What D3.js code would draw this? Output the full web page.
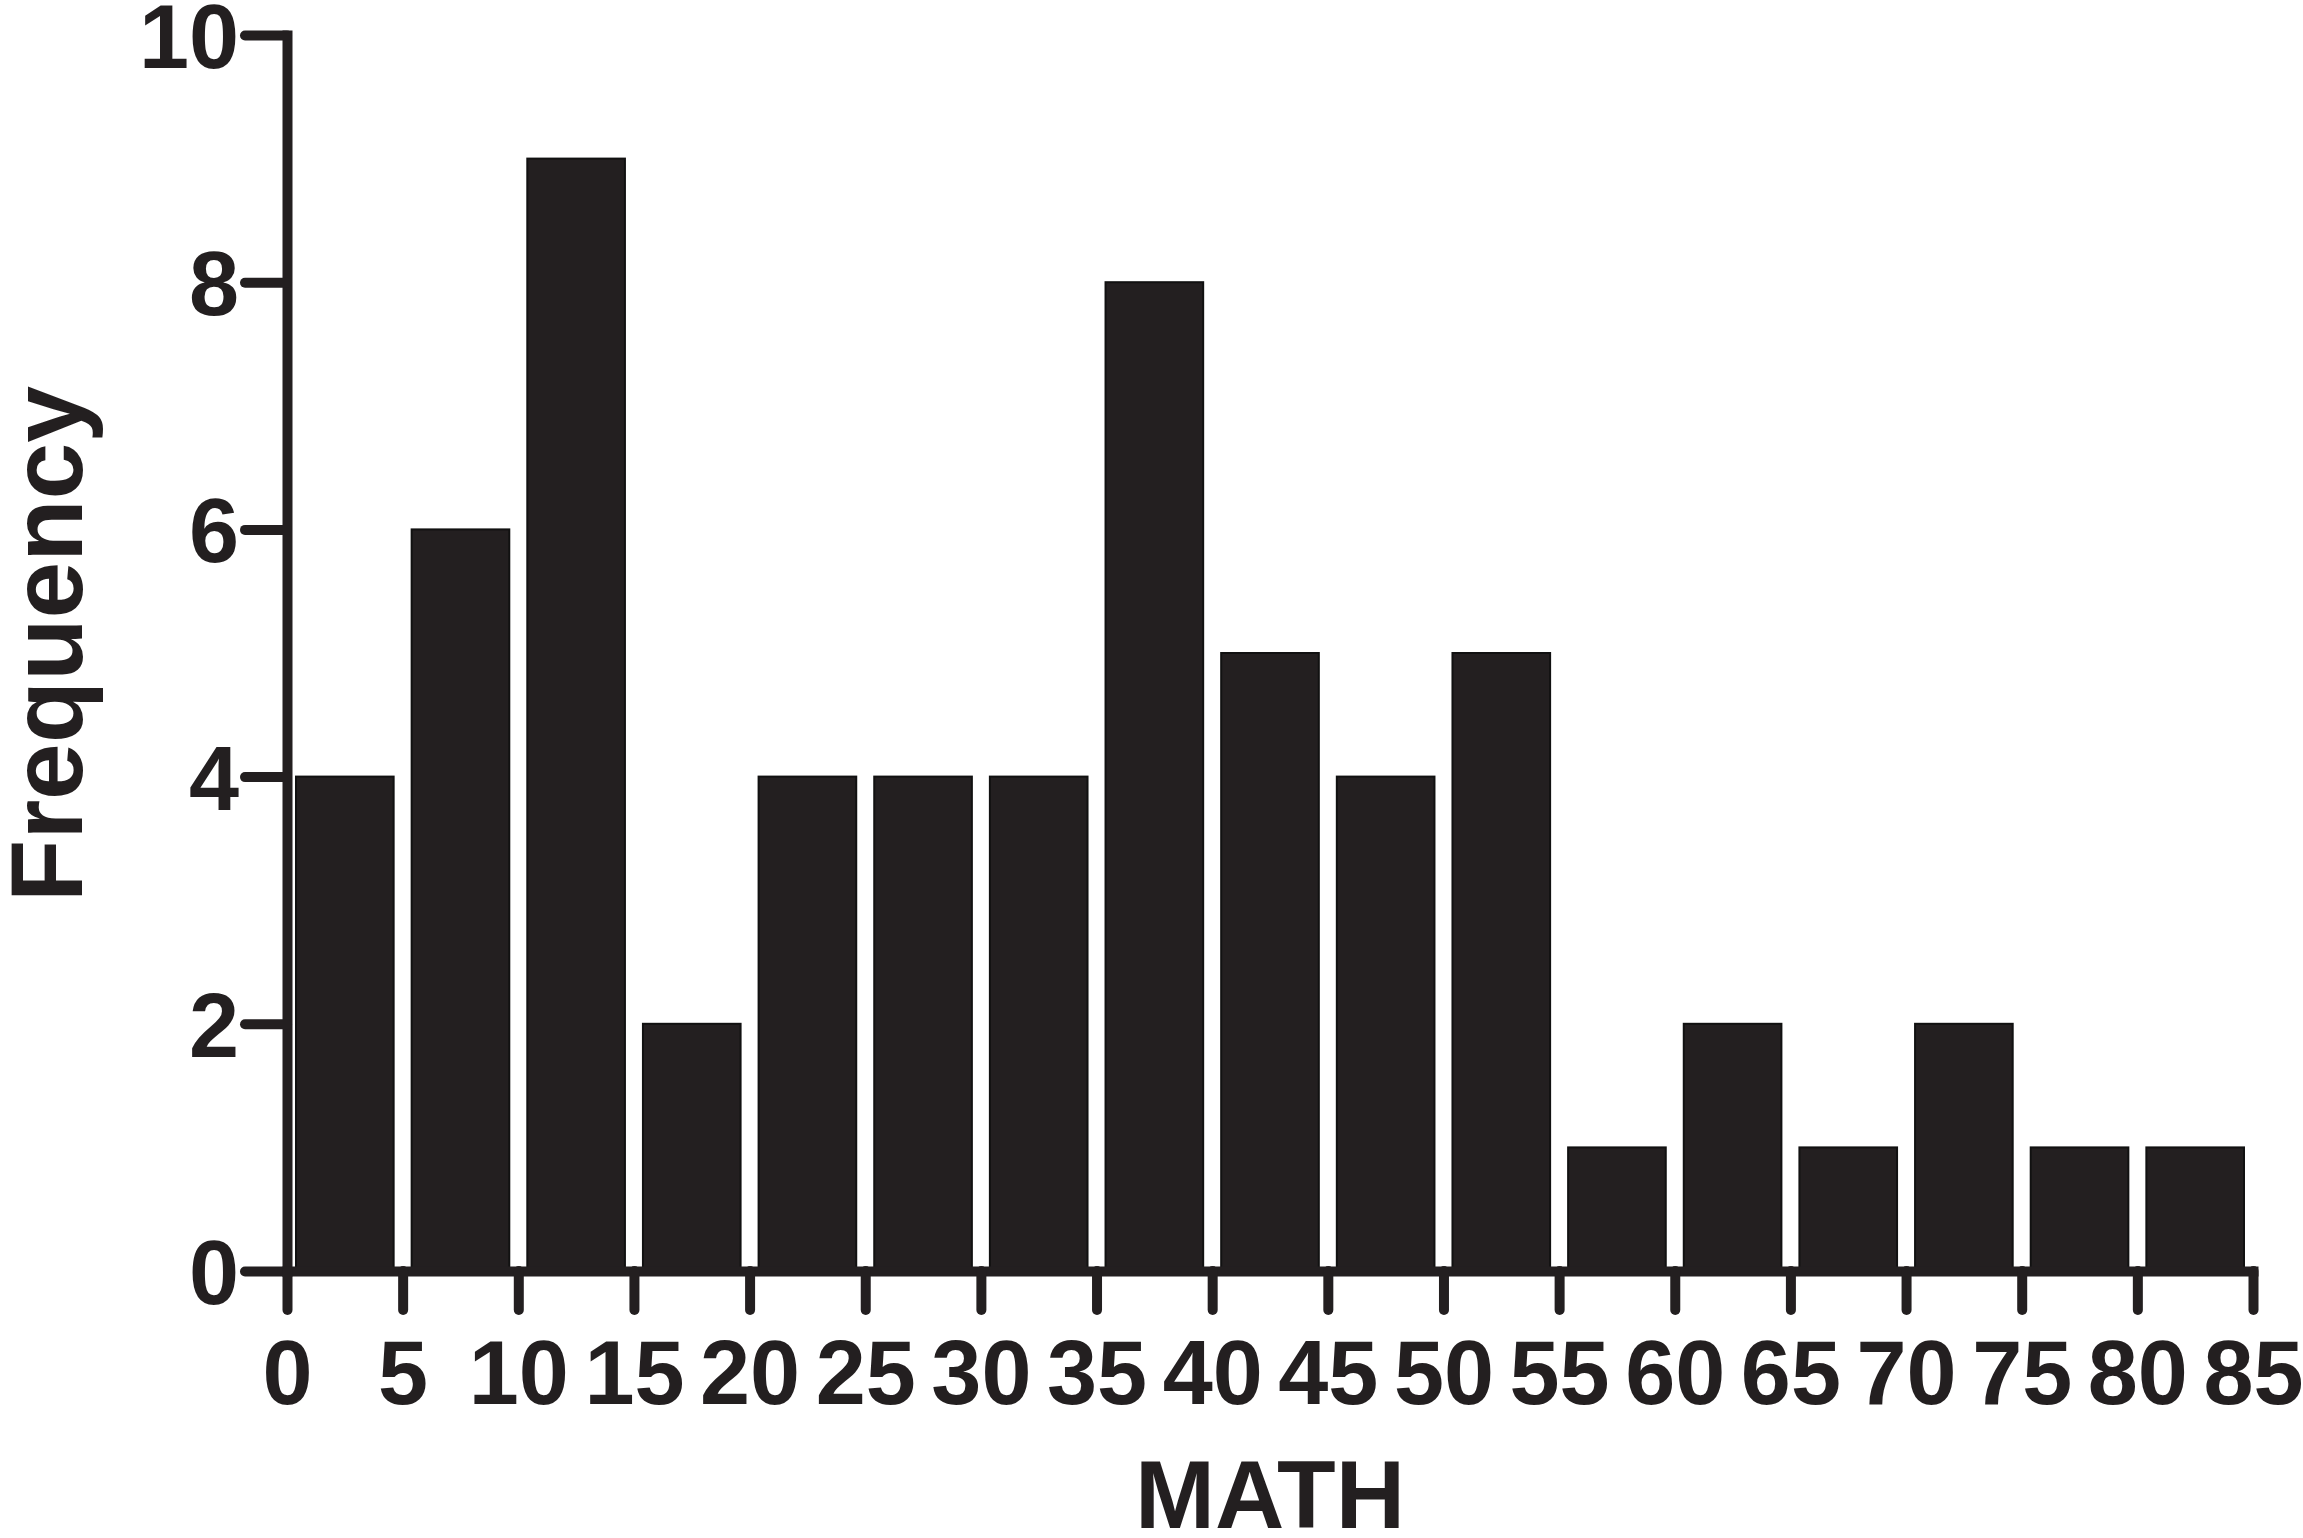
<!DOCTYPE html>
<html>
<head>
<meta charset="utf-8">
<script src="https://cdn.jsdelivr.net/npm/d3@7"></script>
</head>
<body style="margin:0;background:#fff">
<script>
// Histogram bins (MATH score ranges) and their frequencies
const binStarts = [0, 5, 10, 15, 20, 25, 30, 35, 40, 45, 50, 55, 60, 65, 70, 75, 80];
const binWidth = 5;
const frequencies = [4, 6, 9, 2, 4, 4, 4, 8, 5, 4, 5, 1, 2, 1, 2, 1, 1];
const xTicks = [0, 5, 10, 15, 20, 25, 30, 35, 40, 45, 50, 55, 60, 65, 70, 75, 80, 85];
const yTicks = [0, 2, 4, 6, 8, 10];
const xTitle = "MATH";
const yTitle = "Frequency";

const W = 2303, H = 1538;
const ink = "#231f20";
const FONT = "Liberation Sans";

const svg = d3.select("body").append("svg").attr("width", W).attr("height", H).style("display", "block");

const x = d3.scaleLinear().domain([0, 85]).range([287, 2253]);
const y = d3.scaleLinear().domain([0, 10]).range([1271, 35]);

// Bars
const data = binStarts.map((s, i) => ({ s, e: s + binWidth, v: frequencies[i] }));
const pad = 9;
svg.append("g").selectAll("rect").data(data).join("rect")
  .attr("x", d => x(d.s) + pad)
  .attr("width", d => x(d.e) - x(d.s) - 2 * pad)
  .attr("y", d => y(d.v))
  .attr("height", d => y(0) - y(d.v))
  .attr("fill", ink)
  .attr("stroke", "#111")
  .attr("stroke-width", 2);

// Y axis
const gy = svg.append("g").attr("transform", `translate(${x(0)},0)`)
  .call(d3.axisLeft(y).tickValues(yTicks).tickSize(42).tickSizeOuter(0).tickPadding(6));
gy.attr("font-family", FONT).attr("font-size", 90).attr("font-weight", "bold");
gy.select(".domain").attr("stroke", ink).attr("stroke-width", 10).attr("stroke-linecap", "square");
gy.selectAll(".tick line").attr("stroke", ink).attr("stroke-width", 10).attr("stroke-linecap", "round");
gy.selectAll(".tick text").attr("fill", ink).attr("dy", "0.36em");

// X axis
const gx = svg.append("g").attr("transform", `translate(0,${y(0)})`)
  .call(d3.axisBottom(x).tickValues(xTicks).tickSize(39).tickSizeOuter(0).tickPadding(30));
gx.attr("font-family", FONT).attr("font-size", 90).attr("font-weight", "bold");
gx.select(".domain").attr("stroke", ink).attr("stroke-width", 10).attr("stroke-linecap", "square");
gx.selectAll(".tick line").attr("stroke", ink).attr("stroke-width", 10).attr("stroke-linecap", "round");
gx.selectAll(".tick text").attr("fill", ink);

// Axis titles
svg.append("text")
  .attr("x", (x(0) + x(85)) / 2).attr("y", 1528)
  .attr("font-family", FONT).attr("font-weight", "bold")
  .attr("text-anchor", "middle").attr("font-size", 96).attr("fill", ink)
  .text(xTitle);

svg.append("text")
  .attr("transform", `translate(82,644) rotate(-90)`)
  .attr("font-family", FONT).attr("font-weight", "bold")
  .attr("text-anchor", "middle").attr("font-size", 102).attr("fill", ink)
  .text(yTitle);
</script>
</body>
</html>
